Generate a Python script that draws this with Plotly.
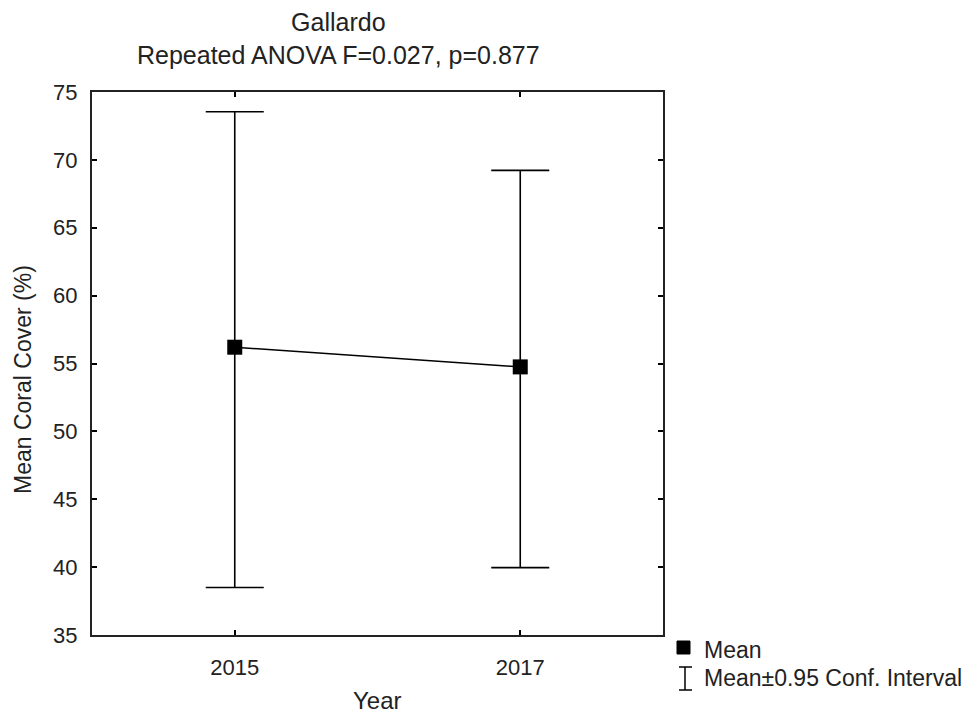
import plotly.graph_objects as go

# ---- data ----
years = ["2015", "2017"]
means = [56.2, 54.75]
ci_upper = [73.55, 69.23]
ci_lower = [38.5, 39.96]
y_ticks = [35, 40, 45, 50, 55, 60, 65, 70, 75]

title_line1 = "Gallardo"
title_line2 = "Repeated ANOVA F=0.027, p=0.877"
x_title = "Year"
y_title = "Mean Coral Cover (%)"
legend_labels = ["Mean", "Mean±0.95 Conf. Interval"]

FONT = "Liberation Sans, Arial, sans-serif"
OFF = 8  # page body margin
W, H = 971 - OFF, 719 - OFF
# plot box in window pixels: x 92..663, y 92..635
L, T = 92 - OFF, 92 - OFF
R = W - (663 - OFF)
B = H - (635 - OFF)
PW, PH = W - L - R, H - T - B


def px(x):
    return (x - OFF - L) / PW


def py(y):
    return (H - B - (y - OFF)) / PH


err_plus = [u - m for u, m in zip(ci_upper, means)]
err_minus = [m - l for m, l in zip(means, ci_lower)]
xi = list(range(len(years)))

fig = go.Figure()
fig.add_trace(go.Scatter(
    x=xi, y=means, mode="lines+markers",
    line=dict(color="black", width=1.5),
    marker=dict(symbol="square", size=15, color="black"),
    error_y=dict(type="data", symmetric=False, array=err_plus, arrayminus=err_minus,
                 color="black", thickness=1.6, width=29),
    showlegend=False,
))

axis_common = dict(
    showline=True, linecolor="#222", linewidth=2, mirror="ticks",
    ticks="inside", ticklen=5, tickwidth=1.5, tickcolor="black",
    showgrid=False, zeroline=False,
    tickfont=dict(family=FONT, size=22, color="#222"),
)
fig.update_xaxes(range=[-0.5, 1.5], tickvals=xi, ticktext=years,
                 ticklabelstandoff=12, **axis_common)
fig.update_yaxes(range=[35, 75], tickvals=y_ticks, ticklabelstandoff=8, **axis_common)

ann = []
ann.append(dict(text=title_line1 + "<br>" + title_line2, xref="paper", yref="paper",
                x=px(338), y=py(38), xanchor="center", yanchor="middle", showarrow=False,
                font=dict(family=FONT, size=25, color="#222")))
ann.append(dict(text=x_title, xref="paper", yref="paper", x=px(377), y=py(700),
                xanchor="center", yanchor="middle", showarrow=False,
                font=dict(family=FONT, size=24, color="#222")))
ann.append(dict(text=y_title, xref="paper", yref="paper", x=px(23), y=py(380),
                xanchor="center", yanchor="middle", showarrow=False, textangle=-90,
                font=dict(family=FONT, size=23, color="#222")))
ann.append(dict(text=legend_labels[0], xref="paper", yref="paper", x=px(702), y=py(650),
                xanchor="left", yanchor="middle", showarrow=False,
                font=dict(family=FONT, size=23, color="#222")))
ann.append(dict(text=legend_labels[1], xref="paper", yref="paper", x=px(702), y=py(678),
                xanchor="left", yanchor="middle", showarrow=False,
                font=dict(family=FONT, size=23, color="#222")))

shapes = [
    dict(type="rect", xref="paper", yref="paper", x0=px(677), x1=px(690), y0=py(654), y1=py(641),
         fillcolor="black", line=dict(color="black", width=1)),
    dict(type="line", xref="paper", yref="paper", x0=px(685), x1=px(685), y0=py(667), y1=py(690),
         line=dict(color="black", width=1.5)),
    dict(type="line", xref="paper", yref="paper", x0=px(679), x1=px(692), y0=py(667), y1=py(667),
         line=dict(color="black", width=1.5)),
    dict(type="line", xref="paper", yref="paper", x0=px(679), x1=px(692), y0=py(690), y1=py(690),
         line=dict(color="black", width=1.5)),
]

fig.update_layout(
    width=W, height=H, margin=dict(l=L, r=R, t=T, b=B, autoexpand=False),
    paper_bgcolor="white", plot_bgcolor="white",
    annotations=ann, shapes=shapes, showlegend=False,
)

fig.write_html("out.html")
